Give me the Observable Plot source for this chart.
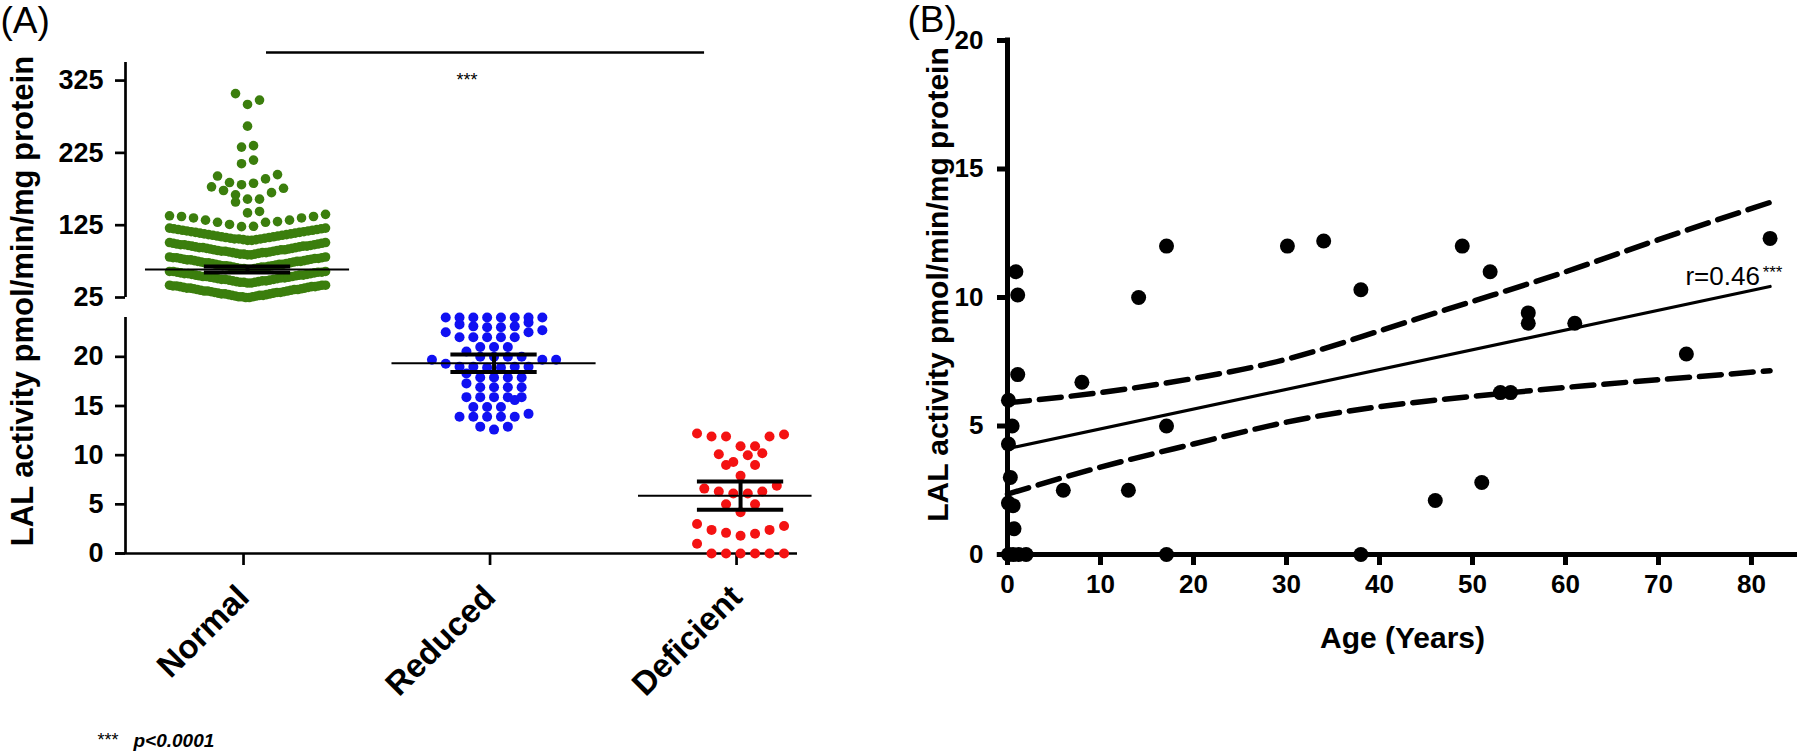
<!DOCTYPE html>
<html>
<head>
<meta charset="utf-8">
<script src="https://cdn.jsdelivr.net/npm/d3@7"></script>
<script src="https://cdn.jsdelivr.net/npm/@observablehq/plot@0.6"></script>
<style>
  html, body { margin: 0; padding: 0; background: #ffffff; }
  #fig { position: relative; width: 1800px; height: 754px; overflow: hidden; font-family: "Liberation Sans", Arial, Helvetica, sans-serif; }
  #panelA, #panelB { position: absolute; top: 0; }
  #panelA { left: 0; }
  #panelB { left: 860px; }
</style>
</head>
<body>
<div id="fig"><div id="panelA"></div><div id="panelB"></div></div>
<script>
// ---------------- Panel A data ----------------
const groups = ["Normal", "Reduced", "Deficient"];
const groupColors = ["#3b7e0d", "#1010f2", "#f41212"];

// Normal group (read row by row from the swarm)
const normalRow1 = [25,25,26,26,26,27,27,28,28,28,29,29,30,30,30,31,31,32,32,32,33,33,34,34,34,35,35,36,36,36,37,37,38,38,38,39,39,40,40,40,41,41,41,42,42,42];
const normalRow2 = [45,45,46,46,46,47,47,48,48,48,49,49,50,50,50,51,51,52,52,52,53,53,54,54,54,55,55,56,56,56,57,57,58,58,58,59,59,60,60,60,61,61,61];
const normalRow3 = [64,64,65,65,65,66,66,67,67,67,68,68,69,69,69,70,70,71,71,71,72,72,73,73,73,74,74,75,75,75,76,76,77,77,77,78,78,79,79,79,80,80,80,81,81];
const normalRow4 = [84,84,85,85,85,86,86,87,87,87,88,88,89,89,89,90,90,91,91,91,92,92,93,93,94,94,94,95,95,96,96,96,97,97,98,98,98,99,99,100,100,101,101];
const normalRow5 = [104,104,105,105,106,106,106,107,107,108,108,109,109,110,110,111,111,112,112,113,113,114,114,115,115,116,116,117,117,118,118,119,119,120,120,121,121];
const normalRow6 = [123,123.5,126,129,129,130,132,132,135,135,137,137,138,140];
const normalHigh = [142,144,157,161,161,167,170,173,176,178,181,183,184,189,193,195,210,215,233,235,262,292,298,307];
const normalValues = [...normalRow1, ...normalRow2, ...normalRow3, ...normalRow4, ...normalRow5, ...normalRow6, ...normalHigh];

const reducedValues = [24,24,24,24,24,24,24,24,23.5,23.3,23.1,23.1,23,23,22.7,22.5,22.5,
  22,22,22,22,22,21,21,21,20.55,20,20,20,20,19.7,19.7,19.7,19.3,19,19,19,19,18.9,18.9,18.3,
  17.9,17.9,17.9,17.9,17.3,16.9,16.9,16.9,16.9,15.9,15.9,15.9,15.9,15.9,15.6,14.9,14.9,14.9,
  14.2,13.9,13.9,13.9,13.9,13.9,12.9,12.9,12.6];

const deficientValues = [12.2,12.1,11.9,11.9,11.9,10.9,10.9,10.2,10.1,10.0,9.3,9.0,9.0,7.9,
  6.9,6.6,6.3,6.3,6.1,6.1,5.0,5.0,4.2,3.0,2.8,2.4,2.4,2.1,2.0,1.8,1.0,0,0,0,0,0,0];

const groupMean = [63.7, 19.35, 5.88];
const groupSem = [4.0, 0.9, 1.44];

const yTicksA = [0, 5, 10, 15, 20, 25, 125, 225, 325];
const yTitle = "LAL activity pmol/min/mg protein";

// ---------------- Panel B data ----------------
const age = [0.9,1.1,1.1,8.0,14.1,17.1,30.1,34.0,0.1,0.5,0.1,0.3,0.1,0.6,0.7,6.0,13.0,17.1,17.1,
  0.1,0.6,1.2,2.0,38.0,48.9,51.9,56.0,56.0,61.0,73.0,82.0,53.0,54.1,46.0,51.0,38.0];
const lal = [11.0,10.1,7.0,6.7,10.0,12.0,12.0,12.2,6.0,5.0,4.3,3.0,2.0,1.9,1.0,2.5,2.5,5.0,0,
  0,0,0,0,10.3,12.0,11.0,9.4,9.0,9.0,7.8,12.3,6.3,6.3,2.1,2.8,0];
const fitAge = [0, 82];
const fitLal = [4.12, 10.43];
const bandAge = [0, 10, 20, 30, 40, 50, 60, 70, 82];
const bandUpper = [5.9, 6.3, 6.85, 7.6, 8.7, 9.85, 11.0, 12.25, 13.7];
const bandLower = [2.35, 3.4, 4.3, 5.15, 5.75, 6.15, 6.5, 6.8, 7.15];
const ageTicks = [0, 10, 20, 30, 40, 50, 60, 70, 80];
const lalTicks = [0, 5, 10, 15, 20];

// ---------------- Layout helpers ----------------
const FONT = "Liberation Sans, Arial, Helvetica, sans-serif";
const xDomA = [-0.495, 2.231], xRangeA = [125, 797];
const pxPerUnitA = (xRangeA[1] - xRangeA[0]) / (xDomA[1] - xDomA[0]);

// Prism-style scatter: values grouped into rows, smallest in the centre, spreading outwards
function prismSwarm(values, rowSpan, stepPx, maxHalfPx) {
  const sorted = [...values].sort((a, b) => a - b);
  const out = [];
  let i = 0;
  while (i < sorted.length) {
    const start = sorted[i];
    let j = i;
    while (j < sorted.length && sorted[j] < start + rowSpan) j++;
    const row = sorted.slice(i, j);
    const n = row.length;
    const step = n > 1 ? Math.min(stepPx, 2 * maxHalfPx / (n - 1)) : 0;
    row.forEach((v, k) => {
      let slot;
      if (n % 2) slot = k === 0 ? 0 : (k % 2 ? Math.ceil(k / 2) : -k / 2);
      else slot = k % 2 ? Math.floor(k / 2) + 0.5 : -(k / 2 + 0.5);
      out.push({value: v, offset: slot * step / pxPerUnitA});
    });
    i = j;
  }
  return out;
}

const swarmN = prismSwarm(normalValues, 19, 12, 78).map(d => ({...d, g: 0}));
const swarmR = prismSwarm(reducedValues, 1.0, 13.8, 76).map(d => ({...d, g: 1}));
const swarmD = prismSwarm(deficientValues, 1.35, 14.5, 50).map(d => ({...d, g: 2}));

const stats = groups.map((g, i) => ({i, mean: groupMean[i], sem: groupSem[i]}));
const meanHalfLeft = 0.414, meanHalfRight = [0.414, 0.414, 0.29], capHalf = 0.175;

const plotA = Plot.plot({
  width: 860, height: 754,
  marginLeft: 125, marginRight: 63, marginTop: 62, marginBottom: 201,
  x: {type: "linear", domain: xDomA, range: xRangeA, axis: null, label: null},
  y: {type: "linear", domain: [0, 24, 25, 350], range: [553, 317, 297, 62], axis: null, label: null},
  style: {fontFamily: FONT, color: "#000", background: "transparent", overflow: "visible"},
  marks: [
    // broken y axis
    Plot.ruleX([[0, 24], [25, 350]], {x: () => xDomA[0], y1: d => d[0], y2: d => d[1], stroke: "#000", strokeWidth: 2.7}),
    Plot.axisY({ticks: yTicksA, tickSize: 10, tickPadding: 12, strokeWidth: 2.7, fontSize: 27, fontWeight: "bold", fill: "#000", label: null}),
    // x axis
    Plot.ruleY([0], {x1: -0.535, x2: xDomA[1], stroke: "#000", strokeWidth: 2.7}),
    Plot.axisX({ticks: [0, 1, 2], tickFormat: i => groups[i], tickRotate: -45, tickSize: 12, tickPadding: 26, dx: -4, strokeWidth: 2.7, fontSize: 33, fontWeight: "bold", fill: "#000", label: null}),
    // dots
    Plot.dot(swarmN, {x: d => d.g + d.offset, y: "value", r: 4.8, fill: groupColors[0], stroke: "none"}),
    Plot.dot(swarmR, {x: d => d.g + d.offset, y: "value", r: 5, fill: groupColors[1], stroke: "none"}),
    Plot.dot(swarmD, {x: d => d.g + d.offset, y: "value", r: 5, fill: groupColors[2], stroke: "none"}),
    // mean with SEM
    Plot.ruleY(stats, {x1: d => d.i - meanHalfLeft, x2: d => d.i + meanHalfRight[d.i], y: "mean", stroke: "#000", strokeWidth: 2}),
    Plot.ruleY(stats, {x1: d => d.i - capHalf, x2: d => d.i + capHalf, y: d => d.mean + d.sem, stroke: "#000", strokeWidth: 4}),
    Plot.ruleY(stats, {x1: d => d.i - capHalf, x2: d => d.i + capHalf, y: d => d.mean - d.sem, stroke: "#000", strokeWidth: 4}),
    Plot.ruleX(stats, {x: "i", y1: d => d.mean - d.sem, y2: d => d.mean + d.sem, stroke: "#000", strokeWidth: 4}),
    // significance bar
    Plot.ruleY([364], {x1: 0.077, x2: 1.854, stroke: "#000", strokeWidth: 2.5}),
    Plot.text(["***"], {x: 0.89, y: 318, fontSize: 18, fill: "#000", lineAnchor: "bottom"}),
    // titles and notes
    Plot.text([yTitle], {frameAnchor: "left", rotate: -90, dx: -102, dy: -7, textAnchor: "middle", lineAnchor: "middle", fontSize: 31, fontWeight: "bold", fill: "#000"}),
    Plot.text(["(A)"], {frameAnchor: "top-left", dx: -125, dy: -56, textAnchor: "start", lineAnchor: "top", fontSize: 37, fill: "#000"}),
    Plot.text(["***"], {frameAnchor: "bottom-left", dx: -28, dy: 192, textAnchor: "start", lineAnchor: "bottom", fontSize: 18, fill: "#000"}),
    Plot.text(["p<0.0001"], {frameAnchor: "bottom-left", dx: 8, dy: 193, textAnchor: "start", lineAnchor: "bottom", fontSize: 19, fontWeight: "bold", fontStyle: "italic", fill: "#000"})
  ]
});
document.getElementById("panelA").appendChild(plotA);

// ---------------- Panel B ----------------
const pts = age.map((a, i) => ({age: a, lal: lal[i]}));
const fit = fitAge.map((a, i) => ({age: a, lal: fitLal[i]}));
const band = bandAge.map((a, i) => ({age: a, upper: bandUpper[i], lower: bandLower[i]}));

const plotB = Plot.plot({
  width: 940, height: 754,
  marginLeft: 147, marginRight: 3, marginTop: 40, marginBottom: 200,
  x: {type: "linear", domain: [0, 84.95], range: [147, 937], axis: null, label: null},
  y: {type: "linear", domain: [0, 20], range: [554, 40], axis: null, label: null},
  style: {fontFamily: FONT, color: "#000", background: "transparent", overflow: "visible"},
  marks: [
    Plot.line(band, {x: "age", y: "upper", stroke: "#000", strokeWidth: 5.5, strokeDasharray: "22,10", curve: "natural"}),
    Plot.line(band, {x: "age", y: "lower", stroke: "#000", strokeWidth: 5.5, strokeDasharray: "22,10", curve: "natural"}),
    Plot.line(fit, {x: "age", y: "lal", stroke: "#000", strokeWidth: 3.2}),
    Plot.ruleY([0], {x1: -1.1, x2: 84.95, stroke: "#000", strokeWidth: 5}),
    Plot.ruleX([0], {y1: 0, y2: 20.1, stroke: "#000", strokeWidth: 5}),
    Plot.axisY({ticks: lalTicks, tickSize: 10, tickPadding: 14, strokeWidth: 5, fontSize: 26, fontWeight: "bold", fill: "#000", label: null}),
    Plot.axisX({ticks: ageTicks, tickSize: 11, tickPadding: 9, strokeWidth: 5, fontSize: 26, fontWeight: "bold", fill: "#000", label: null}),
    Plot.dot(pts, {x: "age", y: "lal", r: 7.5, fill: "#000", stroke: "none"}),
    Plot.text(["r=0.46"], {x: 72.9, y: 10.47, textAnchor: "start", lineAnchor: "bottom", fontSize: 26, fill: "#000"}),
    Plot.text(["***"], {x: 81.2, y: 10.76, textAnchor: "start", lineAnchor: "bottom", fontSize: 17, fill: "#000"}),
    Plot.text([yTitle], {frameAnchor: "left", rotate: -90, dx: -69, dy: -13, textAnchor: "middle", lineAnchor: "middle", fontSize: 30, fontWeight: "bold", fill: "#000"}),
    Plot.text(["Age (Years)"], {frameAnchor: "bottom", dy: 93, fontSize: 30, fontWeight: "bold", fill: "#000"}),
    Plot.text(["(B)"], {frameAnchor: "top-left", dx: -100, dy: -35, textAnchor: "start", lineAnchor: "top", fontSize: 37, fill: "#000"})
  ]
});
document.getElementById("panelB").appendChild(plotB);
</script>
</body>
</html>
